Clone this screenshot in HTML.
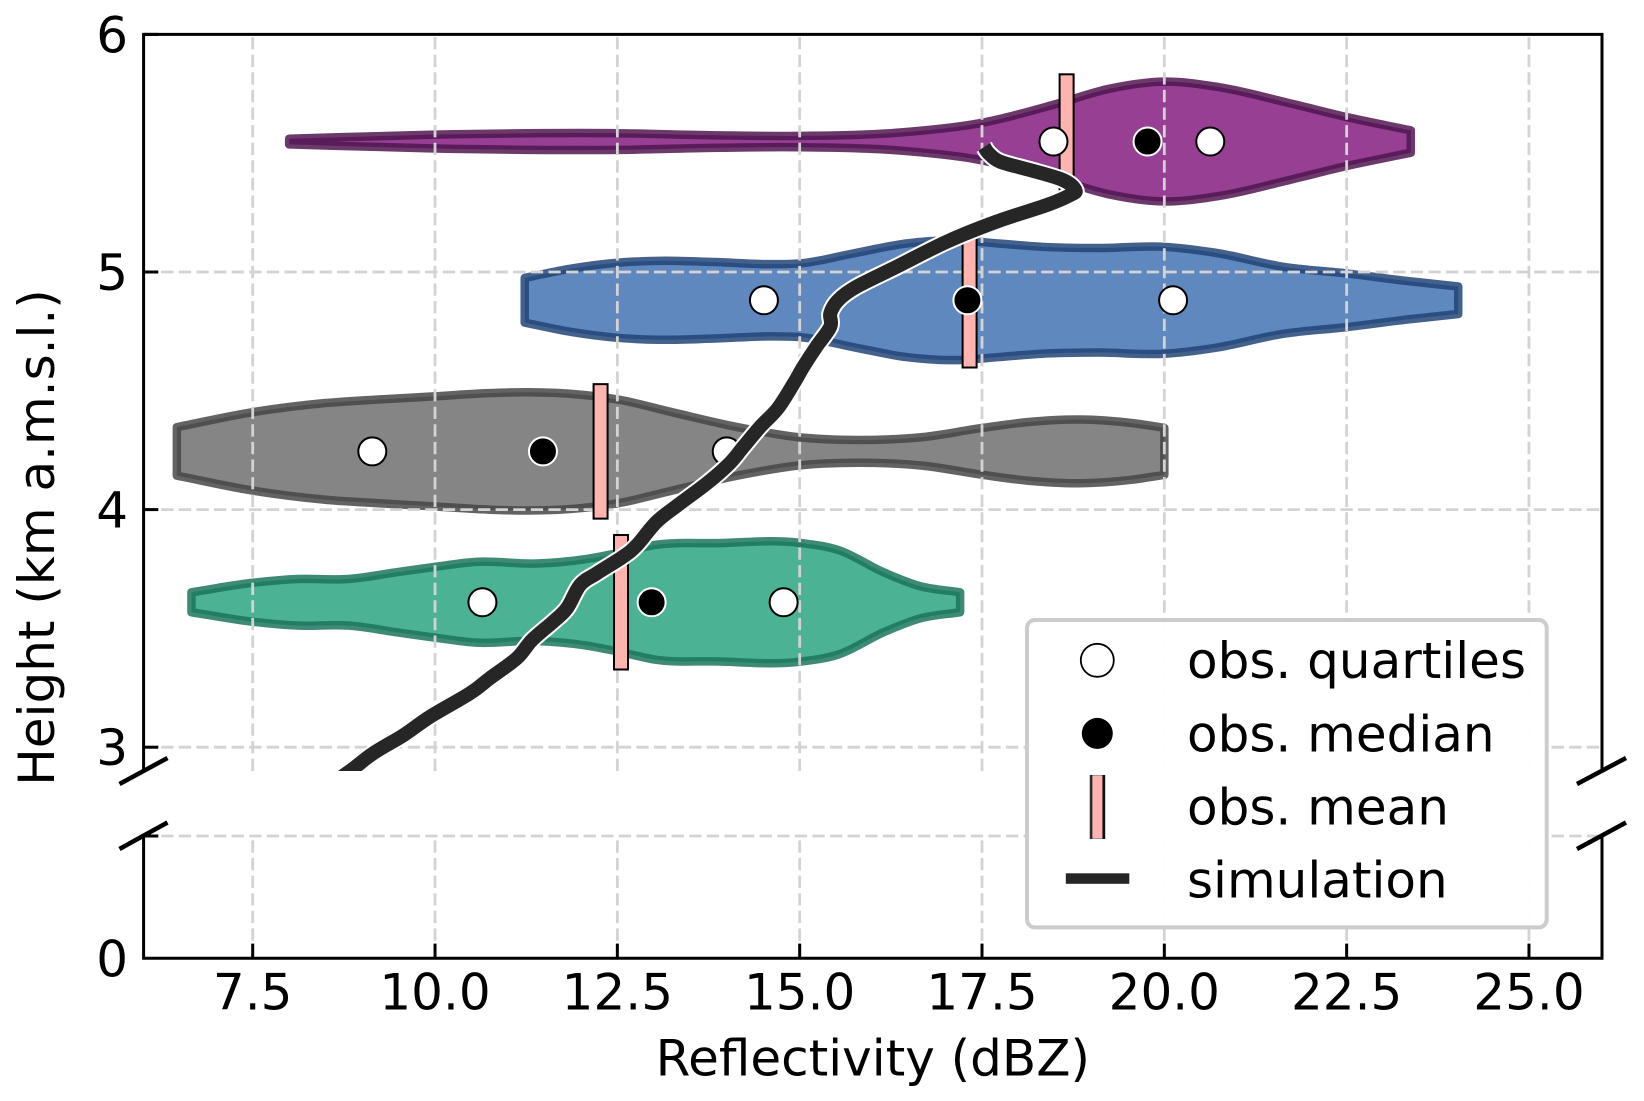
<!DOCTYPE html>
<html>
<head>
<meta charset="utf-8">
<title>Reflectivity vs height</title>
<style>
html,body{margin:0;padding:0;background:#fff;}
svg{display:block;}
text{font-family:"DejaVu Sans","Liberation Sans",sans-serif;fill:#000;}
</style>
</head>
<body>
<svg id="chart" xmlns="http://www.w3.org/2000/svg" width="1644" height="1101" viewBox="0 0 1644 1101">
  <defs>
    <clipPath id="upper-clip"><rect x="143.6" y="34.4" width="1458.4" height="736.6"/></clipPath>
  </defs>
  <g id="violins"></g>
  <g id="grid"></g>
  <g id="means"></g>
  <g id="markers"></g>
  <g id="sim" clip-path="url(#upper-clip)"></g>
  <g id="axes">
    <path d="M143.6 771V34.4H1602V771" fill="none" stroke="#000" stroke-width="3"/>
    <path d="M143.6 836V958.3H1602V836" fill="none" stroke="#000" stroke-width="3"/>
    <line x1="119.5" y1="784" x2="167.5" y2="758" stroke="#000" stroke-width="4.5"/>
    <line x1="119.5" y1="849" x2="167.5" y2="822.5" stroke="#000" stroke-width="4.5"/>
    <line x1="1577" y1="784" x2="1626" y2="758" stroke="#000" stroke-width="4.5"/>
    <line x1="1577" y1="849" x2="1626" y2="822.5" stroke="#000" stroke-width="4.5"/>
  </g>
  <g id="ticks"></g>
  <text x="872.8" y="1075.5" font-size="50" text-anchor="middle">Reflectivity (dBZ)</text>
  <text transform="translate(54 537.5) rotate(-90)" font-size="50" text-anchor="middle">Height (km a.m.s.l.)</text>
  <g>
    <rect x="1027" y="620" width="519.7" height="307.4" rx="8" ry="8" fill="#fff" fill-opacity="0.97" stroke="#cccccc" stroke-width="4"/>
    <circle cx="1097.3" cy="660.3" r="16.5" fill="#fff" stroke="#000" stroke-width="1.8"/>
    <circle cx="1097.3" cy="733.4" r="15.5" fill="#000"/>
    <rect x="1090" y="775.5" width="15" height="63" fill="#ffb3ae" stroke="#999" stroke-width="1"/>
    <line x1="1091.2" y1="775" x2="1091.2" y2="839" stroke="#2a2a2a" stroke-width="2.4"/>
    <line x1="1103.7" y1="775" x2="1103.7" y2="839" stroke="#111" stroke-width="2.6"/>
    <rect x="1065.8" y="873.3" width="63.5" height="10.5" fill="#262626"/>
    <text x="1187" y="678.2" font-size="50">obs. quartiles</text>
    <text x="1187" y="751.3" font-size="50">obs. median</text>
    <text x="1187" y="824.4" font-size="50">obs. mean</text>
    <text x="1187" y="897.5" font-size="50">simulation</text>
  </g>
</svg>
<script>
const xTicks = [7.5, 10, 12.5, 15, 17.5, 20, 22.5, 25];
const xTickLabels = ["7.5", "10.0", "12.5", "15.0", "17.5", "20.0", "22.5", "25.0"];
const yTicks = [6, 5, 4, 3];
const yTickLabels = ["6", "5", "4", "3"];

const violinNames = ["purple", "blue", "gray", "green"];
const violinHeights = [5.549, 4.881, 4.245, 3.61];
const purpleDbz = [8.0, 10.0, 12.5, 13.91, 15.0, 16.42, 17.43, 18.53, 19.24, 20.0, 20.75, 21.75, 22.5, 23.38];
const purpleHalf = [0.012, 0.029, 0.035, 0.026, 0.024, 0.039, 0.075, 0.159, 0.222, 0.252, 0.229, 0.159, 0.103, 0.047];
const blueDbz = [11.23, 11.88, 12.5, 13.06, 13.83, 14.59, 15.0, 15.78, 16.46, 17.14, 17.73, 18.32, 19.09, 20.0, 20.7, 21.63, 22.5, 23.33, 24.03];
const blueHalf = [0.094, 0.134, 0.158, 0.166, 0.161, 0.152, 0.155, 0.2, 0.239, 0.252, 0.239, 0.225, 0.22, 0.225, 0.2, 0.141, 0.113, 0.081, 0.058];
const grayDbz = [6.46, 7.5, 8.48, 9.2, 10.01, 10.73, 11.27, 11.99, 12.53, 13.25, 14.15, 14.97, 15.78, 16.68, 17.49, 18.12, 18.84, 19.56, 20.0];
const grayHalf = [0.102, 0.165, 0.203, 0.218, 0.232, 0.245, 0.249, 0.239, 0.217, 0.165, 0.102, 0.06, 0.048, 0.06, 0.098, 0.123, 0.134, 0.119, 0.099];
const greenDbz = [6.66, 7.5, 8.11, 8.81, 9.51, 10.0, 10.56, 11.4, 12.03, 12.52, 13.01, 13.85, 15.0, 15.53, 16.16, 16.65, 17.2];
const greenHalf = [0.042, 0.082, 0.098, 0.098, 0.128, 0.149, 0.17, 0.163, 0.18, 0.208, 0.241, 0.249, 0.25, 0.22, 0.125, 0.068, 0.042];
const violinFills = ["#963f93", "#5f88be", "#858585", "#4bb293"];
const violinStrokes = ["rgb(79,20,79)", "rgb(32,67,118)", "rgb(69,69,69)", "rgb(25,115,90)"];

const obsQ1 = [18.48, 14.51, 9.14, 10.65];
const obsMedian = [19.77, 17.3, 11.48, 12.97];
const obsQ3 = [20.63, 20.12, 14.0, 14.78];
const obsMean = [18.66, 17.33, 12.27, 12.55];
const meanBarTop = [5.832, 5.164, 4.528, 3.893];
const meanBarBottom = [5.31, 4.598, 3.962, 3.327];

const simDbz = [8.42, 8.84, 9.15, 9.57, 9.93, 10.48, 10.75, 11.12, 11.33, 11.62, 11.81, 11.99, 12.22, 12.58, 12.77, 13.04, 13.36, 13.73, 14.04, 14.23, 14.46, 14.7, 14.92, 15.05, 15.23, 15.42, 15.42, 15.53, 15.78, 16.33, 17.02, 17.7, 18.39, 18.71, 18.78, 18.61, 18.16, 17.75, 17.59, 17.53];
const simHeight = [2.811, 2.901, 2.974, 3.051, 3.128, 3.227, 3.29, 3.374, 3.451, 3.528, 3.585, 3.683, 3.732, 3.802, 3.851, 3.949, 4.026, 4.111, 4.195, 4.265, 4.349, 4.426, 4.532, 4.601, 4.686, 4.77, 4.826, 4.882, 4.938, 5.022, 5.128, 5.212, 5.282, 5.324, 5.345, 5.387, 5.429, 5.464, 5.5, 5.527];

const violinDbz = [purpleDbz, blueDbz, grayDbz, greenDbz];
const violinHalf = [purpleHalf, blueHalf, grayHalf, greenHalf];

function xScale(v) { return 252.7 + 72.93 * (v - 7.5); }
function yScale(v) { return 34.4 + 237.6 * (6 - v); }
const NS = "http://www.w3.org/2000/svg";
function make(parent, tag, props) {
  const el = document.createElementNS(NS, tag);
  for (const k in props) el.setAttribute(k, props[k]);
  document.getElementById(parent).appendChild(el);
  return el;
}
function f(n) { return n.toFixed(2); }
function spline(pts) {
  let d = "";
  for (let i = 0; i < pts.length - 1; i++) {
    const p0 = pts[Math.max(i - 1, 0)], p1 = pts[i], p2 = pts[i + 1], p3 = pts[Math.min(i + 2, pts.length - 1)];
    const c1 = [p1[0] + (p2[0] - p0[0]) / 6, p1[1] + (p2[1] - p0[1]) / 6];
    const c2 = [p2[0] - (p3[0] - p1[0]) / 6, p2[1] - (p3[1] - p1[1]) / 6];
    d += "C" + f(c1[0]) + " " + f(c1[1]) + " " + f(c2[0]) + " " + f(c2[1]) + " " + f(p2[0]) + " " + f(p2[1]);
  }
  return d;
}
function slopes(pts) {
  const n = pts.length, m = [];
  for (let i = 0; i < n; i++) {
    if (i === 0) { m.push((pts[1][1] - pts[0][1]) / (pts[1][0] - pts[0][0])); continue; }
    if (i === n - 1) { m.push((pts[i][1] - pts[i - 1][1]) / (pts[i][0] - pts[i - 1][0])); continue; }
    const h0 = pts[i][0] - pts[i - 1][0], h1 = pts[i + 1][0] - pts[i][0];
    m.push(((pts[i + 1][1] - pts[i][1]) / h1 * h0 + (pts[i][1] - pts[i - 1][1]) / h0 * h1) / (h0 + h1));
  }
  return m;
}
function hermite(pts) {
  const m = slopes(pts);
  let d = "";
  for (let i = 0; i < pts.length - 1; i++) {
    const h = pts[i + 1][0] - pts[i][0];
    d += "C" + f(pts[i][0] + h / 3) + " " + f(pts[i][1] + m[i] * h / 3) + " " + f(pts[i + 1][0] - h / 3) + " " + f(pts[i + 1][1] - m[i + 1] * h / 3) + " " + f(pts[i + 1][0]) + " " + f(pts[i + 1][1]);
  }
  return d;
}

violinNames.forEach(function (name, i) {
  const top = violinDbz[i].map(function (v, j) { return [xScale(v), yScale(violinHeights[i] + violinHalf[i][j])]; });
  const bot = violinDbz[i].map(function (v, j) { return [xScale(v), yScale(violinHeights[i] - violinHalf[i][j])]; }).reverse();
  const d = "M" + f(top[0][0]) + " " + f(top[0][1]) + hermite(top) + "L" + f(bot[0][0]) + " " + f(bot[0][1]) + hermite(bot) + "Z";
  const el = make("violins", "path", { d: d, fill: violinFills[i], stroke: violinStrokes[i], "stroke-opacity": 0.84, "stroke-width": 8.5, "stroke-linejoin": "round" });
  
  
});

const gridStyle = { stroke: "#d3d3d3", "stroke-width": 2.8, "stroke-dasharray": "12.3 5.3" };
xTicks.forEach(function (t) {
  const x = xScale(t);
  const upper = make("grid", "line", Object.assign({ x1: x, x2: x, y1: 771, y2: 34.4 }, gridStyle));
  
  
  const lower = make("grid", "line", Object.assign({ x1: x, x2: x, y1: 958.3, y2: 836 }, gridStyle));
  
  
  const tick = make("ticks", "line", { x1: x, x2: x, y1: 958.3, y2: 943.6, stroke: "#000", "stroke-width": 3 });
  
  
});
xTickLabels.forEach(function (label, i) {
  const txt = make("ticks", "text", { x: xScale(xTicks[i]), y: 1009.5, "font-size": 50, "text-anchor": "middle" });
  
  
  txt.textContent = label;
});
yTicks.forEach(function (t, i) {
  const y = yScale(t);
  if (t < 6) {
    const g = make("grid", "line", Object.assign({ x1: 143.6, x2: 1602, y1: y, y2: y }, gridStyle));
    
    
  }
  const tick = make("ticks", "line", { x1: 143.6, x2: 158.3, y1: y, y2: y, stroke: "#000", "stroke-width": 3 });
  
  
  const txt = make("ticks", "text", { x: 128, y: y + 18, "font-size": 50, "text-anchor": "end" });
  
  
  txt.textContent = yTickLabels[i];
});
const lowerGrid = make("grid", "line", Object.assign({ x1: 143.6, x2: 1602, y1: 836, y2: 836 }, gridStyle));


const lowerTick = make("ticks", "line", { x1: 143.6, x2: 158.3, y1: 836, y2: 836, stroke: "#000", "stroke-width": 3 });


const zeroLabel = make("ticks", "text", { x: 128, y: 976.5, "font-size": 50, "text-anchor": "end" });


zeroLabel.textContent = "0";

obsMean.forEach(function (m, i) {
  const top = yScale(meanBarTop[i]);
  const bot = yScale(meanBarBottom[i]);
  const bar = make("means", "rect", { x: xScale(m) - 7, y: top, width: 14, height: bot - top, fill: "#ffb3ae", stroke: "#000", "stroke-width": 2 });
  
  
});

violinNames.forEach(function (name, i) {
  const y = yScale(violinHeights[i]);
  const q1 = make("markers", "circle", { cx: xScale(obsQ1[i]), cy: y, r: 14, fill: "#fff", stroke: "#000", "stroke-width": 2 });
  
  
  const q3 = make("markers", "circle", { cx: xScale(obsQ3[i]), cy: y, r: 14, fill: "#fff", stroke: "#000", "stroke-width": 2 });
  
  
  const med = make("markers", "circle", { cx: xScale(obsMedian[i]), cy: y, r: 14, fill: "#000", stroke: "#fff", "stroke-width": 2 });
  
  
});

const simPts = simDbz.map(function (v, i) { return [xScale(v), yScale(simHeight[i])]; });
const simPath = "M" + f(simPts[0][0]) + " " + f(simPts[0][1]) + spline(simPts);
const halo = make("sim", "path", { d: simPath, fill: "none", stroke: "#fff", "stroke-width": 18, "stroke-linejoin": "round" });


const simLine = make("sim", "path", { d: simPath, fill: "none", stroke: "#262626", "stroke-width": 14, "stroke-linejoin": "round" });


</script>
</body>
</html>
